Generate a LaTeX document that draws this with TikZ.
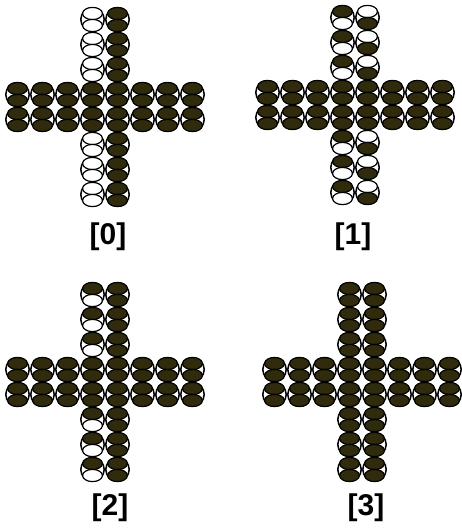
\documentclass[tikz,border=0pt]{standalone}
\usepackage{fontspec}
\setmainfont{Liberation Sans}
\usetikzlibrary{positioning}
\definecolor{Olive}{HTML}{2F2B0C}
\definecolor{Blank}{HTML}{FFFFFF}

% one bead: ring with an upper and a lower ellipse
\newcommand{\bead}[4]{%
  \draw[line width=1.5pt] (#1,#2) circle (11.7pt);
  \filldraw[fill=#3,line width=1.2pt] (#1,#2-6) ellipse (9.9pt and 6.1pt);
  \filldraw[fill=#4,line width=1.2pt] (#1,#2+6) ellipse (9.9pt and 6.1pt);
}
% one cross: centre, then upper/lower colours of left and right column of the arms
\newcommand{\beadcross}[6]{%
  \foreach \i in {0,...,7} {
    \foreach \j in {0,1} {
      \pgfmathsetmacro{\bx}{#1-87.5+25*\i}
      \pgfmathsetmacro{\by}{#2-12.5+25*\j}
      \bead{\bx}{\by}{Olive}{Olive}
    }
  }
  \foreach \j in {-3,-2,-1,2,3,4} {
    \pgfmathsetmacro{\by}{#2-12.5+25*\j}
    \pgfmathsetmacro{\bl}{#1-12.5}
    \pgfmathsetmacro{\br}{#1+12.5}
    \bead{\bl}{\by}{#3}{#4}
    \bead{\br}{\by}{#5}{#6}
  }
}

\begin{document}
\begin{tikzpicture}[x=1pt,y=-1pt]
  \useasboundingbox (0,0) rectangle (461,529);
  \tikzset{caption/.style={font=\bfseries\fontsize{30}{30}\selectfont,inner sep=0pt}}

  \beadcross{105}{107}{Blank}{Blank}{Olive}{Olive}
  \beadcross{355}{105}{Olive}{Blank}{Blank}{Olive}
  \beadcross{105}{382}{Olive}{Blank}{Olive}{Olive}
  \beadcross{362}{382}{Olive}{Olive}{Olive}{Olive}

  \node[caption] (cap0) at (108,237) {[0]};
  \node[caption] (cap1) at (353,237) {[1]};
  \node[caption] (cap2) at (110,508) {[2]};
  \node[caption] (cap3) at (366,508) {[3]};
\end{tikzpicture}
\end{document}
